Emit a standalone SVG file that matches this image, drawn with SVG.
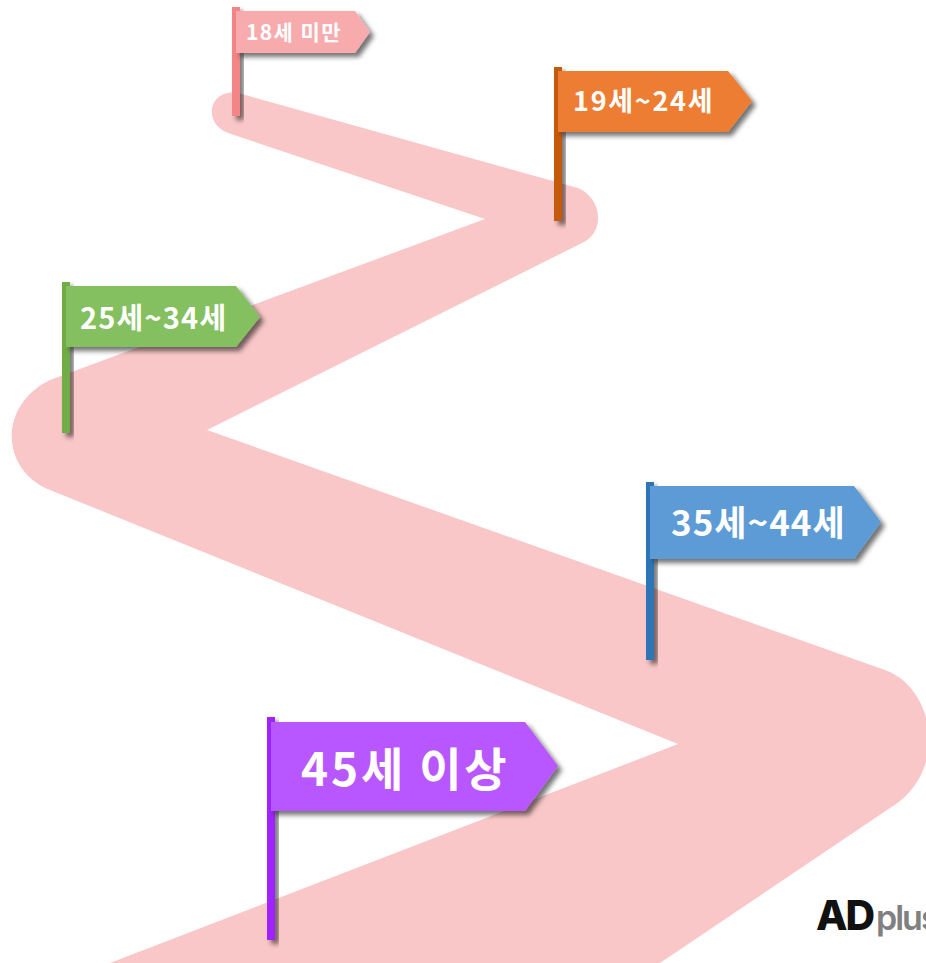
<svg xmlns="http://www.w3.org/2000/svg" width="926" height="963" viewBox="0 0 926 963">
<defs>
<filter id="sh" x="-40%" y="-40%" width="190%" height="190%"><feDropShadow dx="4" dy="4" stdDeviation="2.6" flood-color="#000" flood-opacity="0.55"/></filter>
</defs>
<style>
text{font-family:"Noto Sans CJK KR","Noto Sans",sans-serif;font-weight:700;fill:#fff;text-anchor:start}
.s{filter:url(#sh)}
</style>
<rect width="926" height="963" fill="#fff"/>
<g id="road"><path fill="#f9c7c8" d="M238 93 L578 188 C602 198 606 232 582 243 L207 430 L885 670 C935 688 950 772 890 808 L660 963 L110 963 L678 744 L50 490 C0 470 -2 405 50 380 L485 219 L228 133 C202 123 209 88 238 93 Z"/></g>
<g id="connectors"></g>
<g id="flag-18">
<rect class="s" x="232" y="7" width="8" height="109" fill="#f48587"/>
<path class="s" d="M236 11 H355 L370 32 L355 53 H236 Z" fill="#f7abad"/>
<text x="246" y="40" font-size="21" letter-spacing="1.4">18세 미만</text>
</g>
<g id="flag-19">
<rect class="s" x="554" y="67" width="8" height="154" fill="#c55a11"/>
<path class="s" d="M558 71 H728 L752 101 L728 132 H558 Z" fill="#ed7d31"/>
<text x="573" y="111" font-size="27" letter-spacing="1.7">19세~24세</text>
</g>
<g id="flag-25">
<rect class="s" x="62" y="282" width="8" height="151" fill="#70ad47"/>
<path class="s" d="M66 286 H236 L260 317 L236 347 H66 Z" fill="#85c061"/>
<text x="80" y="329" font-size="29" letter-spacing="1.2">25세~34세</text>
</g>
<g id="flag-35">
<rect class="s" x="646" y="482" width="8" height="178" fill="#2e75b6"/>
<path class="s" d="M650 486 H854 L881 522 L854 559 H650 Z" fill="#5b9bd5"/>
<text x="671" y="536" font-size="35" letter-spacing="1">35세~44세</text>
</g>
<g id="flag-45">
<rect class="s" x="267" y="717" width="8" height="223" fill="#a020ff"/>
<path class="s" d="M271 722 H525 L558 766 L525 811 H271 Z" fill="#b856ff"/>
<text x="301" y="786" font-size="46" letter-spacing="2.8">45세 이상</text>
</g>
<g id="logo">
<text x="816" y="930" font-size="41" letter-spacing="-2" style="fill:#111;font-family:Inter,sans-serif;font-weight:800">AD</text>
<text x="876" y="930" font-size="34" letter-spacing="-2" style="fill:#808080;font-family:Inter,sans-serif;font-weight:600">plus</text>
</g>
</svg>
